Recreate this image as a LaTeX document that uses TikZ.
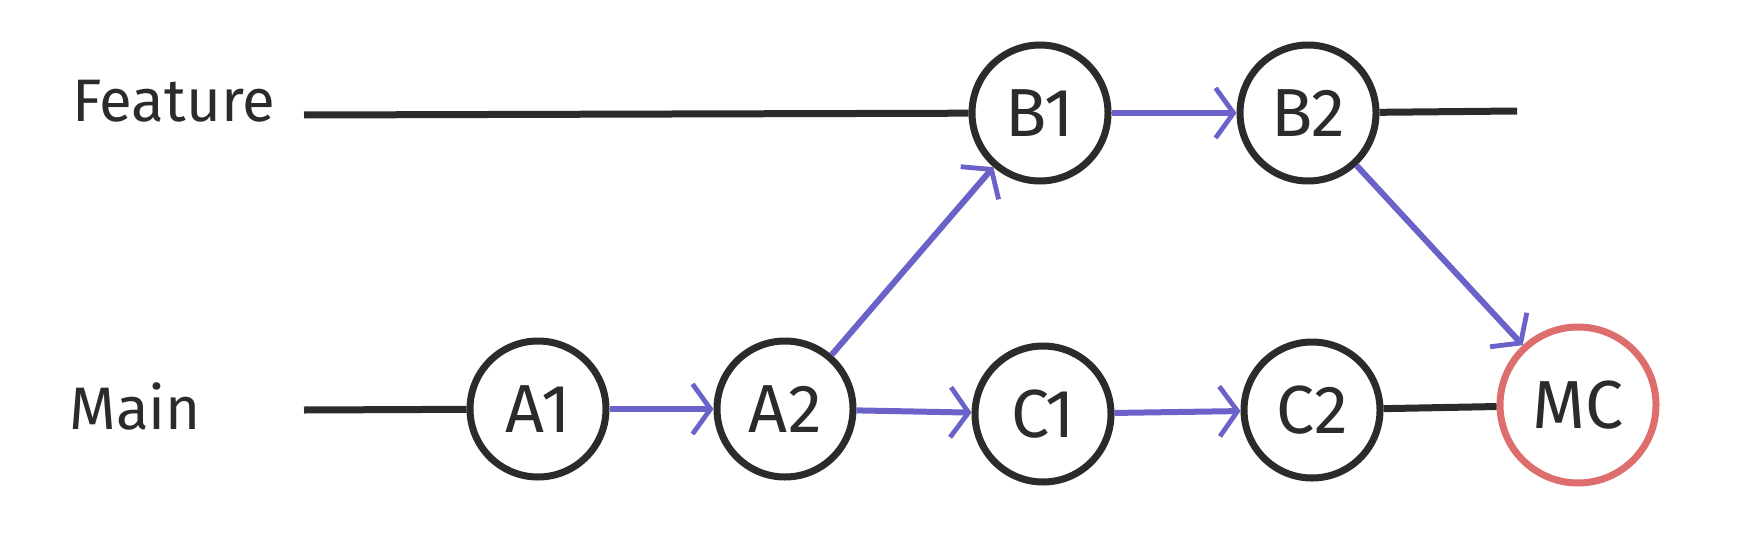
\documentclass[tikz,border=0pt]{standalone}
\usepackage{fontspec}
\setmainfont{Fira Sans}
\usetikzlibrary{arrows.meta}

\definecolor{pencil}{HTML}{2B2B2B}
\definecolor{merge}{HTML}{6A62C8}
\definecolor{mcred}{HTML}{DE6E6E}

\tikzset{
    commit/.style={circle, draw=pencil, line width=3.5pt, minimum size=68pt, inner sep=0pt,
        font=\fontsize{34}{34}\selectfont, text=pencil},
    branchname/.style={anchor=west, inner sep=0pt, font=\fontsize{30}{30}\selectfont, text=pencil},
    branchline/.style={draw=pencil, line width=3.5pt},
    flow/.style={draw=merge, line width=3pt, -{Straight Barb[length=9pt,width=25pt,line width=2.4pt]}}
}

\begin{document}
\begin{tikzpicture}[x=0.5pt,y=-0.5pt]
    \useasboundingbox (0,0) rectangle (1759,556);

    % Namen der Zweige
    \node[branchname] (feature) at (72,101) {Feature};
    \node[branchname] (main) at (69,406) {Main};

    % Commits
    \node[commit] (A1) at (538,409) {A1};
    \node[commit] (A2) at (785,409) {A2};
    \node[commit] (B1) at (1040,113) {B1};
    \node[commit] (B2) at (1308,113) {B2};
    \node[commit] (C1) at (1043,414) {C1};
    \node[commit] (C2) at (1312,410) {C2};
    \node[commit, draw=mcred, minimum size=78pt] (MC) at (1578,405) {MC};

    \coordinate (featstart) at (304,115);
    \coordinate (featend) at (1517,111);
    \coordinate (mainstart) at (304,410);

    % Zweiglinien
    \draw[branchline] (featstart) -- (B1);
    \draw[branchline] (B2) -- (featend);
    \draw[branchline] (mainstart) -- (A1);
    \draw[branchline] (C2) -- (MC);

    % Pfeile zwischen den Commits
    \draw[flow] (A1) -- (A2);
    \draw[flow] (A2) -- (B1);
    \draw[flow] (A2) -- (C1);
    \draw[flow] (B1) -- (B2);
    \draw[flow] (C1) -- (C2);
    \draw[flow] (B2) -- (MC);

\end{tikzpicture}
\end{document}
